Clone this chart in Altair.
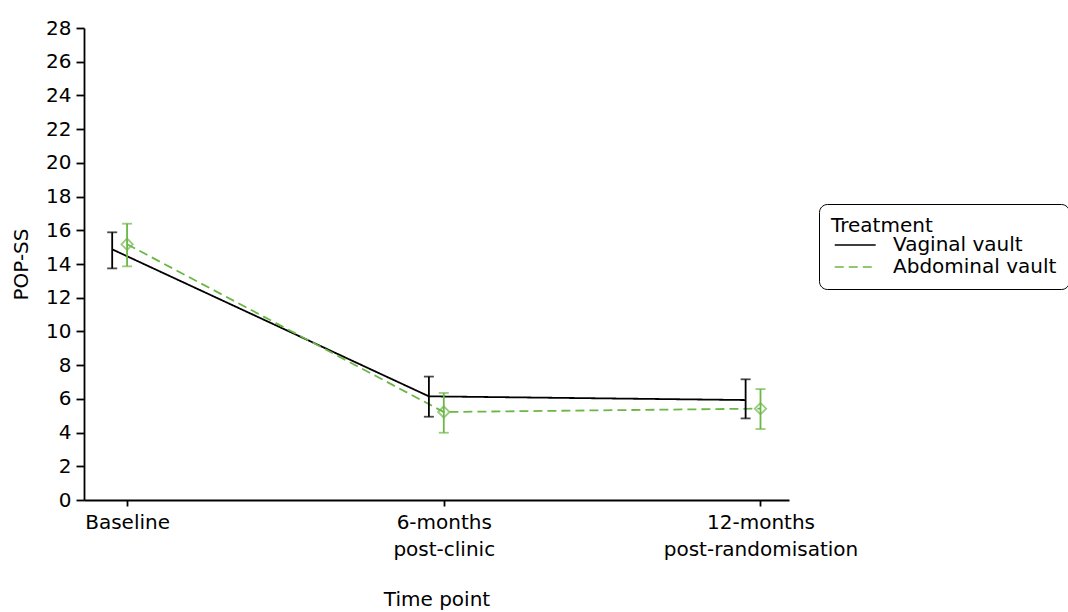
import altair as alt
import pandas as pd

# ---- data ----
timepoints = ["Baseline", "6-months post-clinic", "12-months post-randomisation"]
time_pos = [1, 2, 3]
treatments = ["Vaginal vault", "Abdominal vault"]
dodge = [-0.047, 0.0]  # horizontal dodge per treatment (x units)

vag_mean = [14.87, 6.15, 5.93]
vag_lo = [13.74, 4.94, 4.84]
vag_hi = [15.88, 7.32, 7.16]

abd_mean = [15.17, 5.22, 5.42]
abd_lo = [13.86, 3.99, 4.21]
abd_hi = [16.39, 6.35, 6.58]

rows = []
for t, m, lo, hi, d in [
    (treatments[0], vag_mean, vag_lo, vag_hi, dodge[0]),
    (treatments[1], abd_mean, abd_lo, abd_hi, dodge[1]),
]:
    for i, tp in enumerate(timepoints):
        rows.append({"Treatment": t, "time": tp, "x": time_pos[i] + d,
                     "mean": m[i], "lo": lo[i], "hi": hi[i]})
df = pd.DataFrame(rows)

FONT = "DejaVu Sans"
FS = 20
GREEN = "#6BB746"
LW = 1.8

cscale = alt.Scale(domain=treatments, range=["black", GREEN])

color = alt.Color("Treatment:N", scale=cscale,
                  legend=alt.Legend(title="Treatment", orient="none",
                                    legendX=735, legendY=176,
                                    symbolType="M-0.75,0H2.97", symbolSize=484,
                                    symbolStrokeWidth=1.6,
                                    titleFontSize=FS, labelFontSize=FS,
                                    titleFont=FONT, labelFont=FONT,
                                    titleFontWeight="normal",
                                    titleColor="black", labelColor="black",
                                    strokeColor="black", cornerRadius=8,
                                    padding=12, labelOffset=38,
                                    rowPadding=0, titlePadding=-3,
                                    labelLimit=400))
dash = alt.StrokeDash("Treatment:N",
                      scale=alt.Scale(domain=treatments, range=[[1, 0], [9, 5]]),
                      legend=None)

xscale = alt.Scale(domain=[0.864, 3.09], nice=False, zero=False)
yscale = alt.Scale(domain=[0, 28], nice=False)
x_axis = alt.Axis(values=time_pos, title="Time point",
                  labelExpr="datum.value == 1 ? 'Baseline' : datum.value == 2 ? ['6-months', 'post-clinic'] : ['12-months', 'post-randomisation']",
                  grid=False, domainColor="black", tickColor="black",
                  domainWidth=LW, tickWidth=LW, tickSize=6,
                  labelFontSize=FS, titleFontSize=FS, labelFont=FONT,
                  titleFont=FONT, titleFontWeight="normal",
                  labelColor="black", titleColor="black",
                  labelLineHeight=27, labelOverlap=False, labelLimit=400,
                  labelPadding=6, titlePadding=30, labelFlush=False)
y_axis = alt.Axis(values=list(range(0, 29, 2)), title="POP-SS", grid=False,
                  domainColor="black", tickColor="black", domainWidth=LW,
                  tickWidth=LW, tickSize=8, labelFontSize=FS, titleFontSize=FS,
                  labelFont=FONT, titleFont=FONT, titleFontWeight="normal",
                  labelColor="black", titleColor="black", labelPadding=5,
                  labelOverlap=False, titlePadding=14)

def X():
    return alt.X("x:Q", scale=xscale, axis=x_axis, title="Time point")

def Y(field):
    return alt.Y(field, scale=yscale, axis=y_axis, title="POP-SS")

base = alt.Chart(df)

lines = base.mark_line(strokeWidth=LW).encode(x=X(), y=Y("mean:Q"), color=color,
                                               strokeDash=dash, detail="Treatment:N")
cap_color = alt.Color("Treatment:N", legend=None, scale=cscale)
bars = base.mark_rule(strokeWidth=LW).encode(
    x=X(), y=Y("lo:Q"), y2="hi:Q", color=cap_color)
caps_lo = base.mark_tick(orient="horizontal", size=10, thickness=LW).encode(
    x=X(), y=Y("lo:Q"), color=cap_color)
caps_hi = base.mark_tick(orient="horizontal", size=10, thickness=LW).encode(
    x=X(), y=Y("hi:Q"), color=cap_color)
pts = base.transform_filter(alt.datum.Treatment == treatments[1]).mark_point(
    shape="diamond", size=130, filled=False, strokeWidth=LW, color=GREEN).encode(
    x=X(), y=Y("mean:Q"))

chart = alt.layer(lines, bars, caps_lo, caps_hi, pts).properties(
    width=705, height=472,
    autosize=alt.AutoSizeParams(type="none"),
    padding={"left": 84, "top": 28, "right": 279, "bottom": 112},
).configure(background="white").configure_view(strokeWidth=0, stroke="transparent")

chart.save("out.html", embed_options={"renderer": "svg", "actions": False})
